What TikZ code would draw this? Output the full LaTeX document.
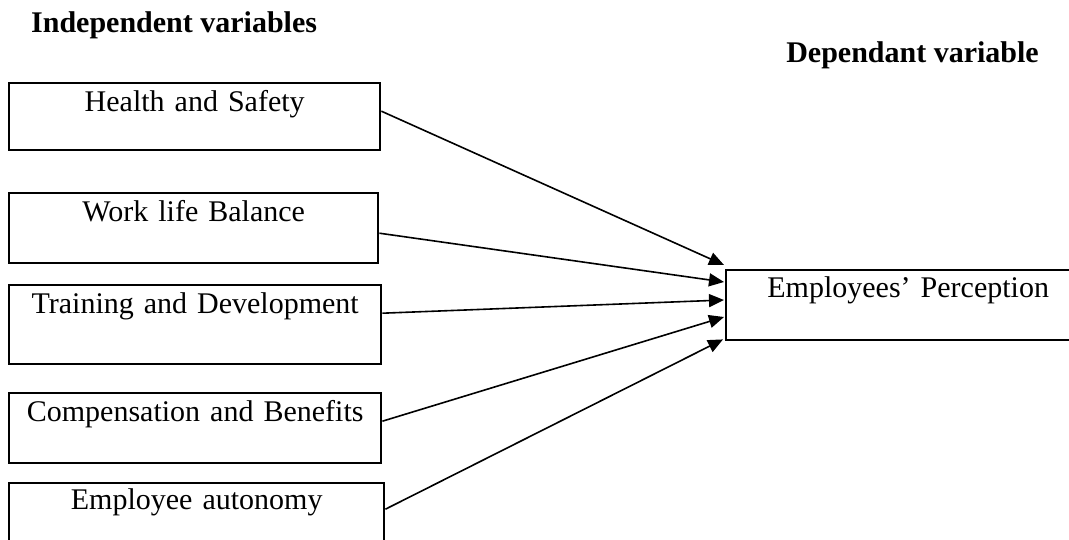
\documentclass[tikz,border=0pt]{standalone}
\usepackage{fontspec}
\setmainfont{Liberation Serif}
\usetikzlibrary{arrows.meta}
\newcommand{\fs}{\fontsize{30pt}{36pt}\selectfont}
\tikzset{
  var/.style={draw, line width=2.4pt, rectangle, inner sep=0pt, align=center,
    anchor=north west, font=\fs},
  heading/.style={font=\fs\bfseries, inner sep=0pt},
  link/.style={line width=1.6pt, -{Triangle[length=15pt,width=13pt]}}
}
\begin{document}
\begin{tikzpicture}[x=1pt,y=-1pt]
\useasboundingbox (0,0) rectangle (1069,540);
\node[heading, anchor=base west] (iv) at (31,33) {Independent variables};
\node[heading, anchor=base east] (dv) at (1039,63) {Dependant variable};
\node[var, text width=371pt, text height=28pt, text depth=39pt] (hs) at (8,82) {Health and Safety};
\node[var, text width=369pt, text height=28pt, text depth=42pt] (wl) at (8,192) {Work life Balance};
\node[var, text width=372pt, text height=28pt, text depth=51pt] (td) at (8,284) {Training and Development};
\node[var, text width=372pt, text height=28pt, text depth=42pt] (cb) at (8,392) {Compensation and Benefits};
\node[var, text width=375pt, text height=26pt, text depth=70pt] (ea) at (8,482) {Employee autonomy};
\node[var, text width=364pt, text height=27pt, text depth=43pt] (ep) at (725,269) {Employees’ Perception};
\draw[link] (hs.base east) -- ([xshift=-1pt,yshift=4pt]ep.north west);
\draw[link] ([yshift=-12pt]wl.base east) -- ([xshift=-1pt,yshift=-13pt]ep.north west);
\draw[link] (td.base east) -- ([xshift=-1pt,yshift=-31pt]ep.north west);
\draw[link] (cb.base east) -- ([xshift=-1pt,yshift=-48pt]ep.north west);
\draw[link] (ea.base east) -- ([xshift=-2pt,yshift=2pt]ep.south west);
\end{tikzpicture}
\end{document}
